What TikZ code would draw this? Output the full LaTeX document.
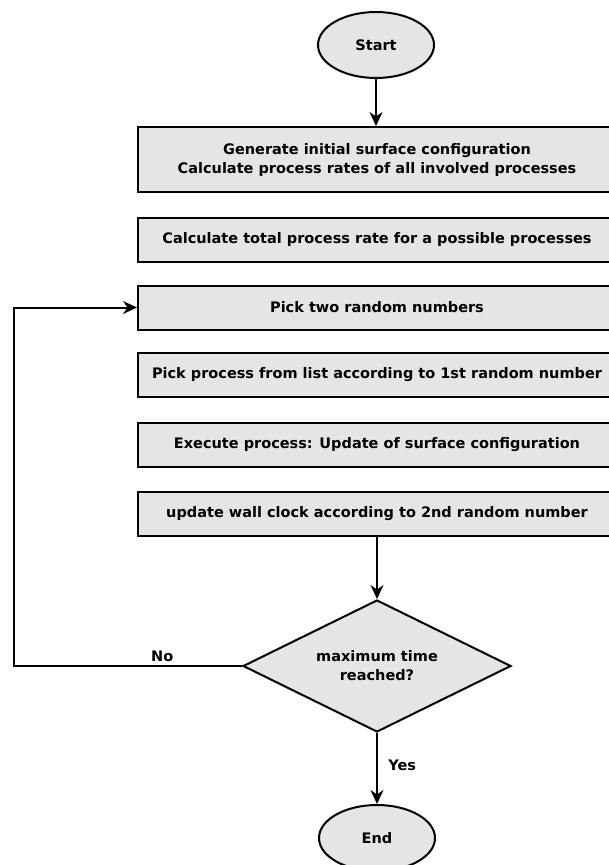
\documentclass[tikz,border=0pt]{standalone}
\usepackage{fontspec}
\setmainfont{DejaVu Sans}
\usetikzlibrary{shapes, arrows.meta, positioning}
\definecolor{boxgray}{HTML}{E5E5E5}

\begin{document}
\begin{tikzpicture}[x=1pt, y=-1pt, line width=2pt,
    font=\bfseries\fontsize{14.5}{19}\selectfont,
    terminal/.style={draw, ellipse, fill=boxgray, minimum width=116pt, minimum height=66pt},
    stepbox/.style={draw, rectangle, fill=boxgray, minimum width=478pt, minimum height=44pt, align=center},
    decision/.style={draw, diamond, shape aspect=2, fill=boxgray, minimum width=268pt, minimum height=132pt, inner sep=0pt, align=center},
    flow/.style={-{Stealth[length=14pt, width=13pt]}}]
      \useasboundingbox (0,0) rectangle (609,865);
      \node[terminal] (start) at (376, 45) {Start};
      \node[stepbox, minimum height=65pt] (init) at (377, 159.5) {Generate initial surface configuration\\Calculate process rates of all involved processes};
      \node[stepbox] (total) at (377, 239.5) {Calculate total process rate for a possible processes};
      \node[stepbox] (pick) at (377, 307.5) {Pick two random numbers};
      \node[stepbox] (choose) at (377, 375) {Pick process from list according to 1st random number};
      \node[stepbox] (execute) at (377, 445) {Execute process: Update of surface configuration};
      \node[stepbox] (clock) at (377, 513.5) {update wall clock according to 2nd random number};
      \node[decision] (check) at (377, 666) {maximum time\\reached?};
      \node[terminal] (end) at (377, 838) {End};
      \coordinate (loop) at (14, 666);
      \draw[flow] (start) -- (start |- init.north);
      \draw[flow] (clock) -- (check);
      \draw[flow] (check) -- node[right=7pt, pos=0.45] {Yes} (end);
      \draw[flow] (check.west) -- node[above, pos=0.35] {No} (loop) |- (pick.west);
    \end{tikzpicture}
\end{document}
